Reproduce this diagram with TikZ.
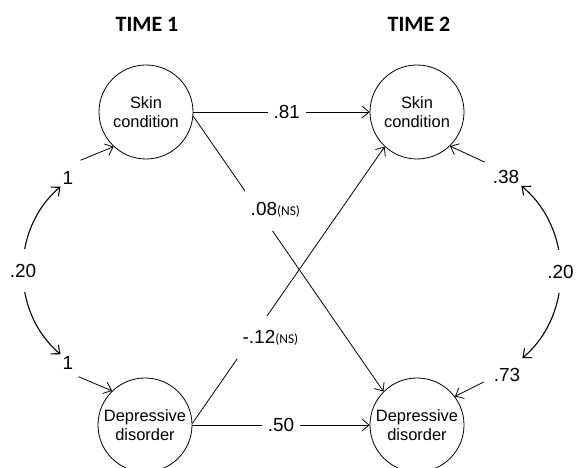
\documentclass[tikz,border=0pt]{standalone}
\usepackage{fontspec}
\setmainfont{Carlito}
\newfontfamily\arialfont{Liberation Sans}
\usepackage{tikz}
\usetikzlibrary{arrows.meta,positioning}

\begin{document}
\begin{tikzpicture}[x=1bp,y=1bp,
  var/.style={draw,circle,minimum size=94bp,inner sep=0pt,align=center,line width=0.8bp,
    font=\arialfont\fontsize{16.5}{19}\selectfont},
  coef/.style={fill=white,inner xsep=6bp,inner ysep=2bp,minimum height=43bp,
    font=\arialfont\fontsize{19}{23}\selectfont},
  lbl/.style={inner sep=2bp,font=\arialfont\fontsize{19}{23}\selectfont},
  arr/.style={line width=0.8bp,-{Straight Barb[length=7bp,width=12bp]}},
  corr/.style={line width=1.1bp,{Straight Barb[length=7bp,width=12bp]}-{Straight Barb[length=7bp,width=12bp]}}]
  \useasboundingbox (0,0) rectangle (579,468);
  \node[font=\bfseries\fontsize{22}{26}\selectfont] (time1) at (147,444) {TIME 1};
  \node[font=\bfseries\fontsize{22}{26}\selectfont] (time2) at (419,444) {TIME 2};
  \node[var] (skin1) at (146,356) {Skin\\condition};
  \node[var] (skin2) at (417,356) {Skin\\condition};
  \node[var] (dep1) at (145,43) {Depressive\\disorder};
  \node[var] (dep2) at (417,43) {Depressive\\disorder};
  \node[lbl] (one1) at (68,290) {1};
  \node[lbl] (one2) at (68,105) {1};
  \node[lbl] (res1) at (506,291) {.38};
  \node[lbl] (res2) at (507,93) {.73};
  \coordinate (one1t) at ([shift={(5,9)}]one1.north east);
  \coordinate (one2t) at ([shift={(3,-5)}]one2.south east);
  \coordinate (res1t) at ([shift={(-6,6)}]res1.north west);
  \coordinate (res2t) at ([shift={(-8,-7)}]res2.west);
  \draw[arr] (skin1) -- node[coef,pos=0.53] {.81} (skin2);
  \draw[arr] (dep1) -- node[coef] {.50} (dep2);
  %交叉路径的标注向右平移
  \draw[arr] (skin1.-5) -- node[coef,pos=0.34,xshift=17.5bp]
  {.08{\rmfamily\fontsize{13.5}{16}\selectfont(NS)}} (dep2.135);
  \draw[arr] (dep1.2) -- node[coef,pos=0.31,xshift=18.5bp]
  {-.12{\rmfamily\fontsize{13.5}{16}\selectfont(NS)}} (skin2.227);
  \draw[arr] (one1t) -- (skin1.227);
  \draw[arr] (one2t) -- (dep1.134);
  \draw[arr] (res1t) -- (skin2.-46);
  \draw[arr] (res2t) -- (dep2.37);
  %两侧的相关弧线
  \draw[corr] (one1.south west) to[bend right=50] node[coef] {.20} (one2.north west);
  \draw[corr] (res1.south east) to[bend left=50] node[coef] {.20} ([yshift=8bp]res2.north east);
\end{tikzpicture}
\end{document}
